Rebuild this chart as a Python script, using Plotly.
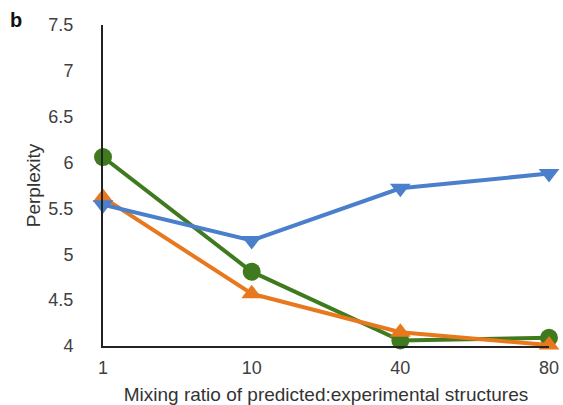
import plotly.graph_objects as go

categories = ["1", "10", "40", "80"]
green_vals = [6.06, 4.81, 4.06, 4.09]
orange_vals = [5.62, 4.57, 4.15, 4.01]
blue_vals = [5.54, 5.15, 5.72, 5.88]
y_ticks = [4, 4.5, 5, 5.5, 6, 6.5, 7, 7.5]
y_ticktext = ["4", "4.5", "5", "5.5", "6", "6.5", "7", "7.5"]

xpos = list(range(len(categories)))

fig = go.Figure()
series = [
    (green_vals, "#3f7a1f", "circle", 18),
    (orange_vals, "#e8781e", "triangle-up", 18),
    (blue_vals, "#4a7fcb", "triangle-down", 18),
]
for vals, col, sym, sz in series:
    fig.add_trace(go.Scatter(
        x=xpos, y=vals, mode="lines+markers",
        line=dict(color=col, width=4),
        marker=dict(symbol=sym, size=sz, color=col),
        cliponaxis=False, showlegend=False,
    ))

W, H = 563, 405
L, R, T, B = 103, 14, 25, 59
pw = W - L - R
ph = H - T - B

fig.update_layout(
    width=W, height=H,
    margin=dict(l=L, r=R, t=T, b=B, autoexpand=False),
    plot_bgcolor="white", paper_bgcolor="white",
    font=dict(family="Liberation Sans, Arial, sans-serif", size=18, color="#404040"),
    xaxis=dict(
        range=[0, 3], tickvals=xpos, ticktext=categories, automargin=False,
        showgrid=False, zeroline=False, showline=True, linecolor="#222222", linewidth=2,
        ticks="", ticklabelstandoff=4,
        title=dict(text="Mixing ratio of predicted:experimental structures", standoff=16,
                   font=dict(size=19, color="#333333")),
    ),
    yaxis=dict(
        range=[4, 7.5], tickvals=y_ticks, ticktext=y_ticktext, automargin=False,
        showgrid=False, zeroline=False, showline=True, linecolor="#222222", linewidth=2,
        ticks="", ticklabelstandoff=24,
        title=dict(text="Perplexity", standoff=3, font=dict(size=19, color="#333333")),
    ),
)
fig.add_annotation(text="<b>b</b>", x=(16 - L) / pw, y=(ph + T - 20) / ph,
                   xref="paper", yref="paper", xanchor="center", yanchor="middle",
                   showarrow=False, font=dict(size=20, color="#111111"))

fig.write_html("out.html", config={"displayModeBar": False},
               post_script="document.body.style.margin='0';document.body.style.overflow='hidden';")
